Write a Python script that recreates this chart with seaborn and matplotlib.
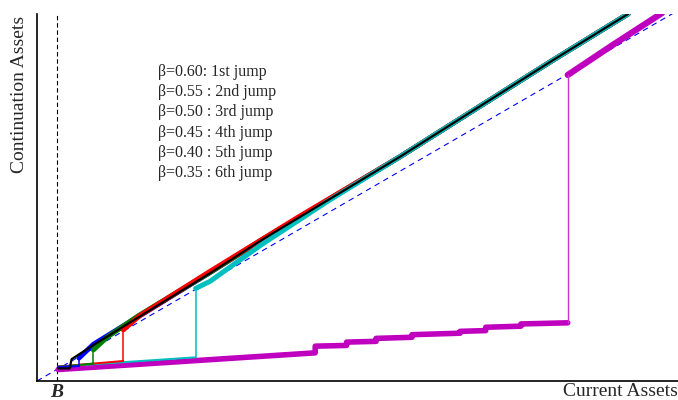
import matplotlib
matplotlib.use("Agg")
import matplotlib.pyplot as plt
import seaborn as sns

# bound B and axis ranges
B = 3.1
x_max = 100
y_max = 99.05

# one curve per beta: lower branch, then upper branch (jump joins them)
black_x = [3.3, 5.1, 5.4, 8.8, 27.0, 35.1, 56.6, 80.5, 92.2]
black_y = [3.4, 3.4, 5.9, 9.7, 29.1, 38.1, 60.5, 86.6, 99.05]

blue_low_x = [3.3, 6.55]
blue_low_y = [3.8, 4.0]
blue_up_x = [6.55, 8.8, 27.0, 35.1, 56.6, 80.5, 92.2]
blue_up_y = [6.2, 9.9, 29.3, 38.1, 60.5, 86.6, 99.05]

green_low_x = [3.3, 8.8]
green_low_y = [3.8, 4.7]
green_up_x = [8.8, 11.0, 15.8, 27.0, 35.1, 56.6, 80.5, 92.2]
green_up_y = [8.4, 11.9, 17.6, 29.3, 38.1, 60.5, 86.6, 99.05]

red_low_x = [3.3, 13.46]
red_low_y = [3.9, 5.4]
red_up_x = [13.46, 16.0, 27.0, 41.0, 56.6, 80.5, 92.2]
red_up_y = [13.8, 17.6, 29.6, 44.5, 60.5, 86.6, 99.05]

cyan_low_x = [3.3, 24.76]
cyan_low_y = [3.9, 6.4]
cyan_up_x = [24.76, 27.0, 35.1, 45.7, 56.6, 80.5, 92.2]
cyan_up_y = [25.0, 26.9, 36.9, 48.9, 60.5, 86.6, 99.05]

mag_low_x = [3.3, 43.4, 43.4, 48.3, 48.3, 52.9, 52.9, 58.5, 58.5, 66.0, 66.0,
             70.0, 70.0, 75.5, 75.5, 82.8]
mag_low_y = [3.1, 7.6, 9.4, 9.6, 10.5, 10.7, 11.5, 11.8, 12.5, 12.9, 13.4,
             13.6, 14.5, 14.8, 15.4, 15.7]
mag_up_x = [82.8, 90.0, 97.5]
mag_up_y = [82.6, 90.9, 99.3]

jump_labels = ["β=0.60: 1st jump", "β=0.55 : 2nd jump", "β=0.50 : 3rd jump",
               "β=0.45 : 4th jump", "β=0.40 : 5th jump", "β=0.35 : 6th jump"]

sns.set_style("white")
plt.rcParams['font.family'] = ['Liberation Serif', 'DejaVu Serif']

fig = plt.figure(figsize=(6.78, 4.0), dpi=100)
ax = fig.add_axes([37 / 678, 19 / 400, 641 / 678, 367 / 400])

# 45 degree line and the bound
ax.plot([0, x_max], [0, x_max], color='#0000ff', lw=0.8, ls=(0, (5, 4)), zorder=1)
ax.axvline(B, color='k', lw=0.8, ls=(0, (4, 2.5)), zorder=1)

def line(x, y, color, lw, z):
    sns.lineplot(x=x, y=y, sort=False, estimator=None, color=color, lw=lw,
                 ax=ax, zorder=z, solid_capstyle='round')

curves = [
    (blue_low_x, blue_low_y, blue_up_x, blue_up_y, '#0000ff'),
    (green_low_x, green_low_y, green_up_x, green_up_y, '#008000'),
    (red_low_x, red_low_y, red_up_x, red_up_y, '#ff0000'),
    (cyan_low_x, cyan_low_y, cyan_up_x, cyan_up_y, '#00bfbf'),
]

# thick upper branches
for lx, ly, ux, uy, c in curves:
    line(ux, uy, c, 3.6, 2)

# magenta: thick lower and upper, thin jump
line(mag_low_x, mag_low_y, '#bf00bf', 4.0, 3)
line(mag_up_x, mag_up_y, '#bf00bf', 4.5, 3)
line([mag_low_x[-1], mag_up_x[0]], [mag_low_y[-1], mag_up_y[0]], '#cc33cc', 1.0, 3)

# thin lower branches and jumps (reverse order so the early ones sit on top)
for i, (lx, ly, ux, uy, c) in enumerate(reversed(curves)):
    line(lx, ly, c, 1.4, 4 + i * 0.1)
    line([lx[-1], ux[0]], [ly[-1], uy[0]], c, 1.1, 4 + i * 0.1)

line(black_x, black_y, 'k', 1.6, 5)

for i, lab in enumerate(jump_labels):
    ax.text(18.9, 83.4 - 5.45 * i, lab, fontsize=11.5, va='center', ha='left')

ax.set_xlim(0, x_max)
ax.set_ylim(0, y_max)
ax.set_xticks([B])
ax.set_xticklabels(['B'], fontsize=14, fontweight='bold', fontstyle='italic')
ax.set_yticks([])
ax.tick_params(axis='x', length=0, pad=2.5)

ax.set_xlabel('Current Assets', fontsize=14)
ax.set_ylabel('Continuation Assets', fontsize=14)
ax.xaxis.set_label_coords(0.910, -0.005)
ax.yaxis.set_label_coords(-0.014, 0.78)

for s in ['top', 'right']:
    ax.spines[s].set_visible(False)
for s in ['left', 'bottom']:
    ax.spines[s].set_color('k')
    ax.spines[s].set_linewidth(1.2)

fig.savefig('out.png', dpi=100)
